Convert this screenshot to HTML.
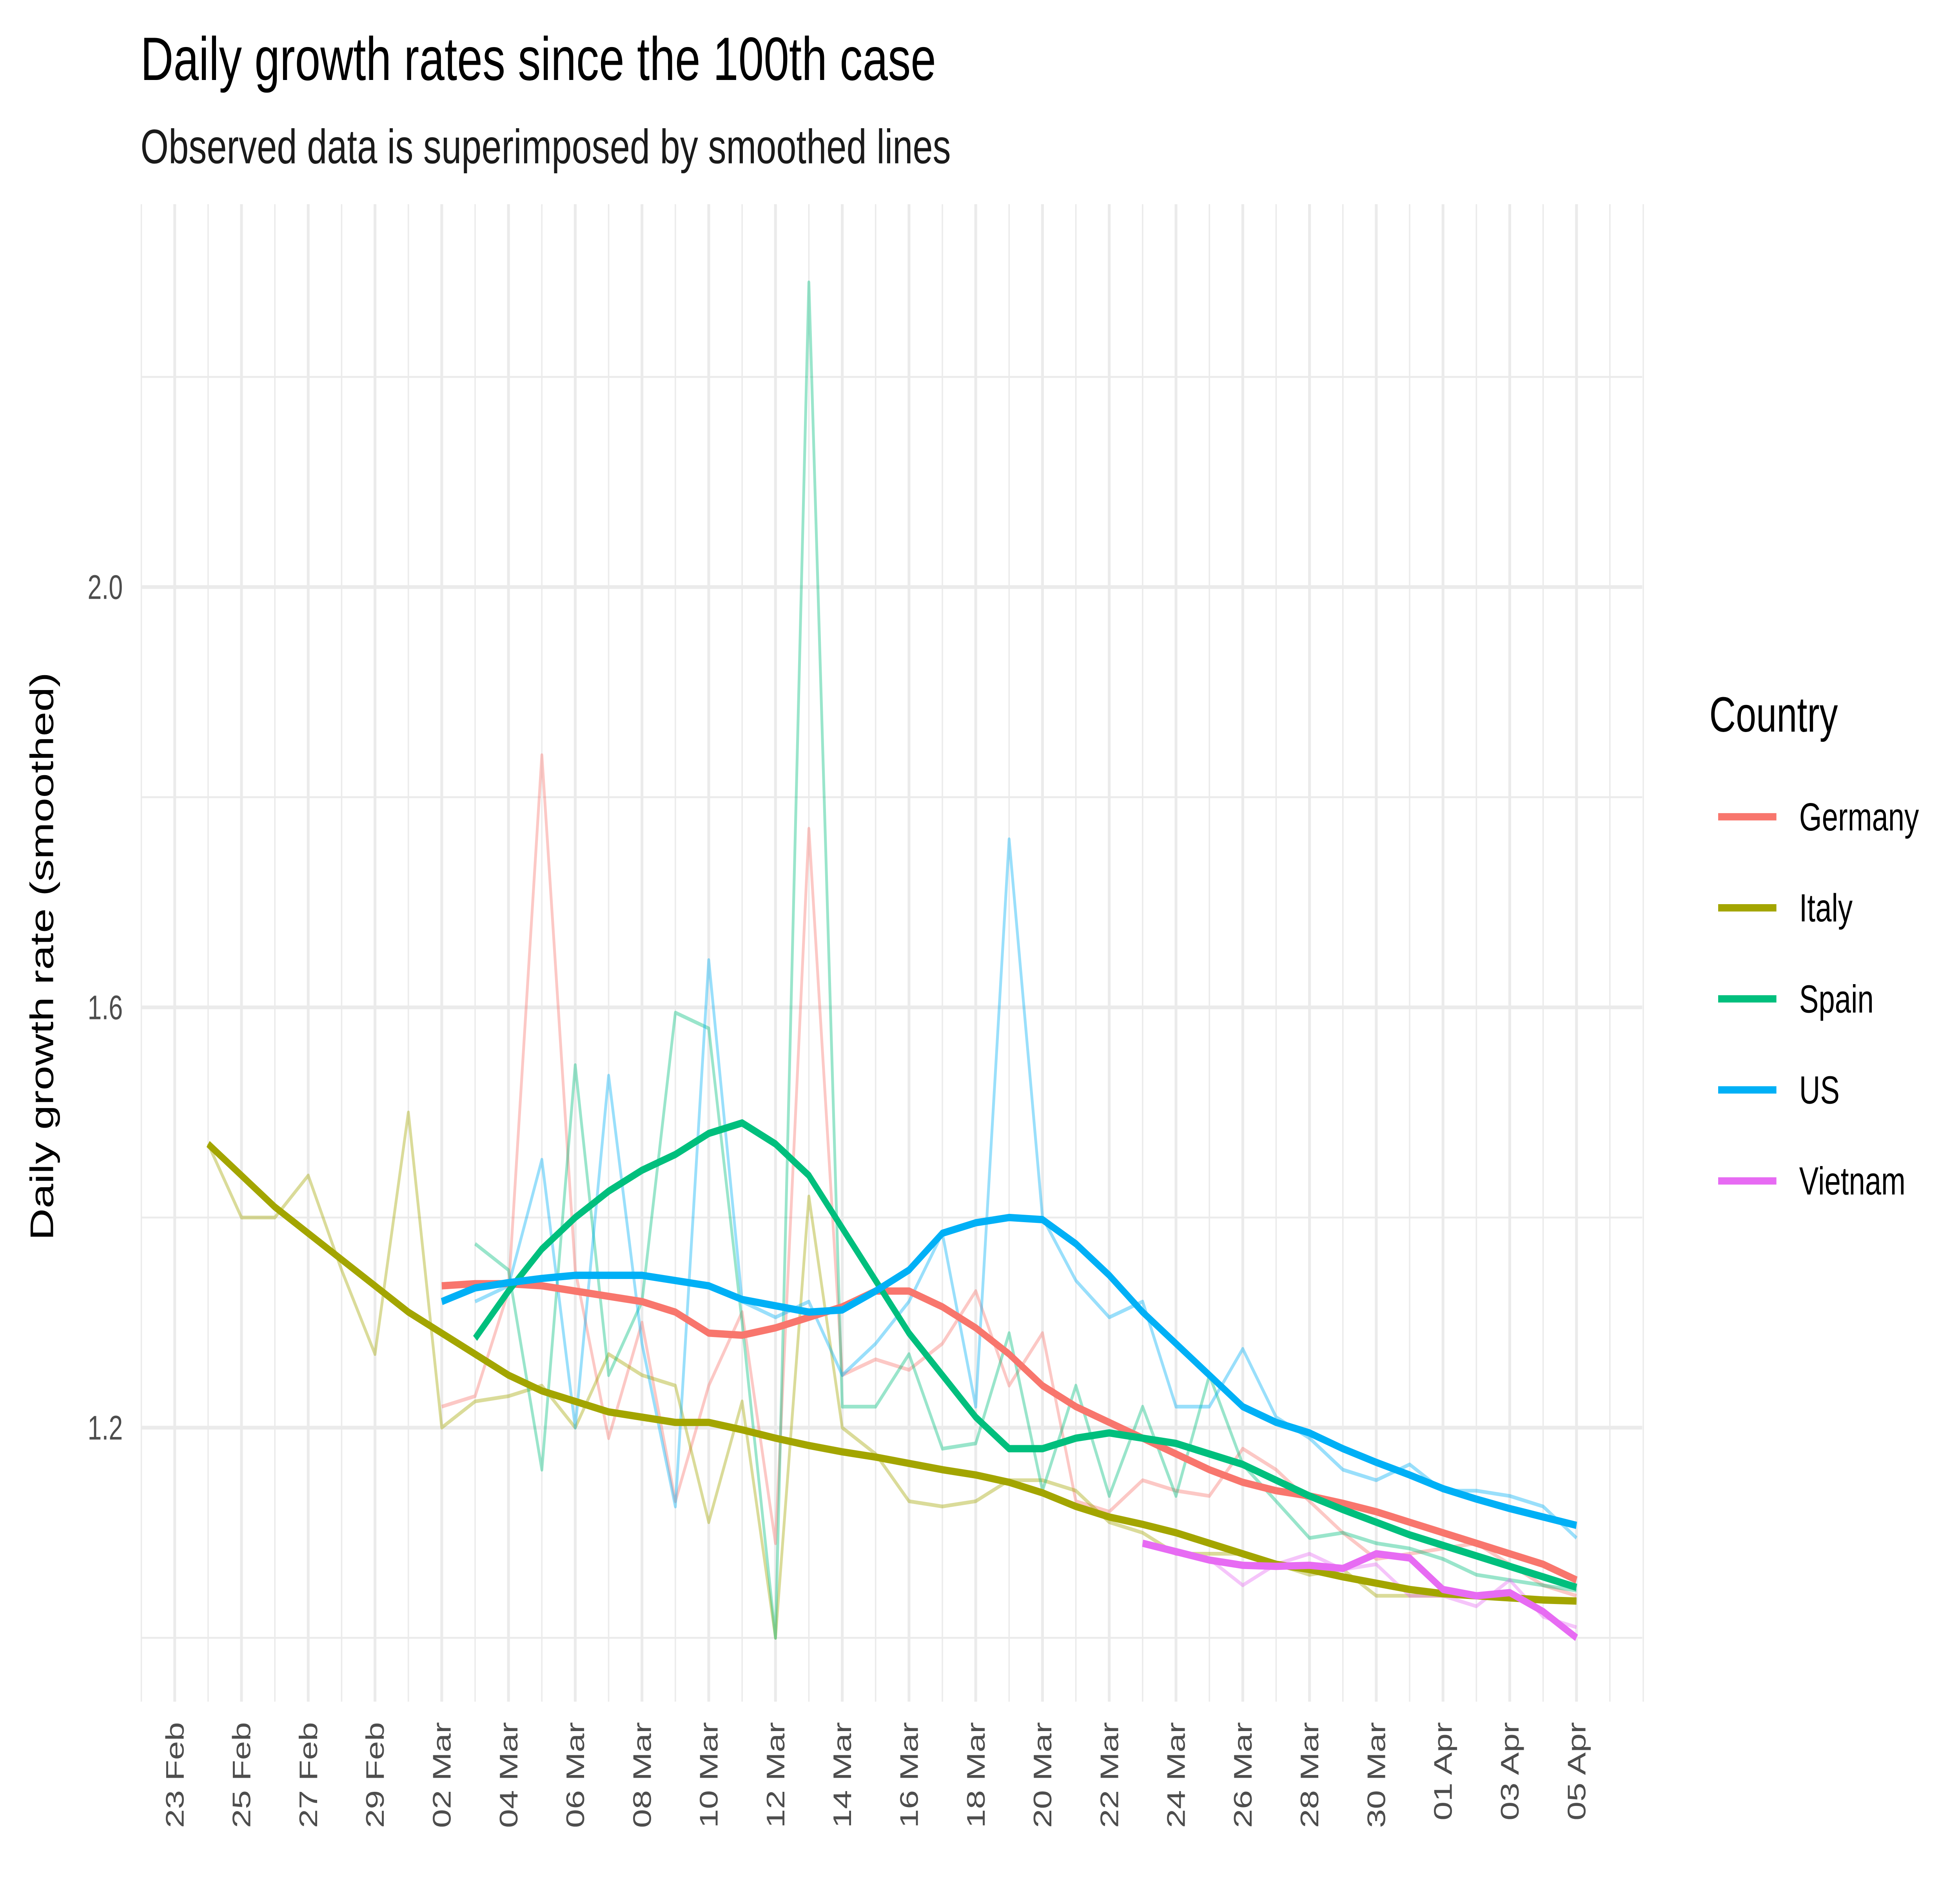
<!DOCTYPE html>
<html><head><meta charset="utf-8">
<style>
html,body{margin:0;padding:0;background:#fff;width:100%;height:100%;overflow:hidden;}
svg{display:block;font-family:"Liberation Sans",Arial,sans-serif;width:100vw;height:100vh;}
</style></head>
<body>
<svg id="chart" viewBox="0 0 1548 1106" preserveAspectRatio="none" xmlns="http://www.w3.org/2000/svg">
<rect width="1548" height="1106" fill="#fff"/>
<text x="111" y="47" font-size="36" fill="#000">Daily growth rates since the 100th case</text>
<text x="111" y="96" font-size="28.5" fill="#1a1a1a">Observed data is superimposed by smoothed lines</text>
<g id="grid"></g>
<g id="raw"></g>
<g id="smooth"></g>
<g id="axes"></g>
<text transform="translate(42,562) rotate(-90)" text-anchor="middle" font-size="26" fill="#000">Daily growth rate (smoothed)</text>
<g id="legend">
<text x="1350" y="430" font-size="29" fill="#000">Country</text>
</g>
</svg>
<script>
const countries = ["Germany","Italy","Spain","US","Vietnam"];
const colors = ["#F8766D","#A3A500","#00BF7D","#00B0F6","#E76BF3"];
const yTicks = [1.2,1.6,2.0];
const yTickLabels = ["1.2","1.6","2.0"];
const yMinor = [1.0,1.4,1.8,2.2];
const xTickLabels = ["23 Feb","25 Feb","27 Feb","29 Feb","02 Mar","04 Mar","06 Mar","08 Mar","10 Mar","12 Mar","14 Mar","16 Mar","18 Mar","20 Mar","22 Mar","24 Mar","26 Mar","28 Mar","30 Mar","01 Apr","03 Apr","05 Apr"];
// start day index (0 = 23 Feb)
const starts = [8,1,9,9,29];
const rawGermany = [1.22,1.23,1.33,1.84,1.35,1.19,1.30,1.13,1.24,1.31,1.09,1.77,1.25,1.265,1.255,1.28,1.33,1.24,1.29,1.13,1.12,1.15,1.14,1.135,1.18,1.16,1.13,1.10,1.075,1.08,1.085,1.09,1.07,1.05,1.04];
const rawItaly = [1.47,1.40,1.40,1.44,1.35,1.27,1.50,1.20,1.225,1.23,1.24,1.20,1.27,1.25,1.24,1.11,1.225,1.00,1.42,1.20,1.175,1.13,1.125,1.13,1.15,1.15,1.14,1.11,1.10,1.08,1.08,1.08,1.07,1.06,1.065,1.04,1.04,1.04,1.04,1.04,1.035,1.035];
const rawSpain = [1.375,1.35,1.16,1.545,1.25,1.32,1.595,1.58,1.30,1.00,2.29,1.22,1.22,1.27,1.18,1.185,1.29,1.14,1.24,1.135,1.22,1.135,1.25,1.165,1.13,1.095,1.10,1.09,1.085,1.075,1.06,1.055,1.05,1.045];
const rawUS = [1.32,1.335,1.455,1.20,1.535,1.28,1.125,1.645,1.32,1.305,1.32,1.25,1.28,1.32,1.385,1.22,1.76,1.40,1.34,1.305,1.32,1.22,1.22,1.275,1.21,1.19,1.16,1.15,1.165,1.14,1.14,1.135,1.125,1.095];
const rawVietnam = [1.09,1.08,1.075,1.05,1.07,1.08,1.065,1.07,1.04,1.04,1.03,1.055,1.02,1.01];
const smGermany = [1.335,1.337,1.337,1.335,1.33,1.325,1.32,1.31,1.29,1.288,1.295,1.305,1.315,1.33,1.33,1.315,1.295,1.27,1.24,1.22,1.205,1.19,1.175,1.16,1.148,1.14,1.135,1.128,1.12,1.11,1.10,1.09,1.08,1.07,1.055];
const smItaly = [1.47,1.44,1.41,1.385,1.36,1.335,1.31,1.29,1.27,1.25,1.235,1.225,1.215,1.21,1.205,1.205,1.198,1.19,1.183,1.177,1.172,1.166,1.16,1.155,1.148,1.138,1.125,1.115,1.108,1.1,1.09,1.08,1.07,1.065,1.058,1.052,1.046,1.042,1.04,1.038,1.036,1.035];
const smSpain = [1.285,1.33,1.37,1.40,1.425,1.445,1.46,1.48,1.49,1.47,1.44,1.39,1.34,1.29,1.25,1.21,1.18,1.18,1.19,1.195,1.19,1.185,1.175,1.165,1.15,1.135,1.122,1.11,1.098,1.088,1.078,1.068,1.058,1.048];
const smUS = [1.32,1.333,1.338,1.342,1.345,1.345,1.345,1.34,1.335,1.322,1.316,1.31,1.312,1.33,1.35,1.385,1.395,1.40,1.398,1.375,1.345,1.31,1.28,1.25,1.22,1.205,1.195,1.18,1.167,1.155,1.142,1.132,1.123,1.115,1.107];
const smVietnam = [1.09,1.082,1.074,1.069,1.068,1.069,1.066,1.08,1.076,1.046,1.04,1.043,1.025,1.0];
const rawSeries = [rawGermany,rawItaly,rawSpain,rawUS,rawVietnam];
const smSeries = [smGermany,smItaly,smSpain,smUS,smVietnam];
const smStarts = [8,1,9,8,29];

const NS="http://www.w3.org/2000/svg";
const X0=138, DX=26.36;
function xs(d){return X0+DX*d;}
function ys(v){return 839-(v-1.2)*617.5;}
function mk(tag,attrs,parent){const e=document.createElementNS(NS,tag);for(const k in attrs)e.setAttribute(k,attrs[k]);parent.appendChild(e);return e;}
const grid=document.getElementById('grid');
const PL=112, PR=1297, PT=120, PB=1000;
for(let d=-1;d<=44;d++){
  const major=(d>=0&&d<=42&&d%2===0);
  const l=mk('line',{x1:xs(d),x2:xs(d),y1:PT,y2:PB,stroke:'#ebebeb','stroke-width':major?2.2:1.1},grid);
  
  
}
yMinor.forEach(v=>{const l=mk('line',{x1:PL,x2:PR,y1:ys(v),y2:ys(v),stroke:'#ebebeb','stroke-width':1.1},grid);
  
  });
yTicks.forEach(v=>{const l=mk('line',{x1:PL,x2:PR,y1:ys(v),y2:ys(v),stroke:'#ebebeb','stroke-width':2.2},grid);
  
  });
const axes=document.getElementById('axes');
yTicks.forEach((v,i)=>{const t=mk('text',{x:97,y:ys(v)+7,'text-anchor':'end','font-size':20,fill:'#4d4d4d'},axes);t.textContent=yTickLabels[i];
  
  });
xTickLabels.forEach((s,i)=>{const x=xs(i*2);const t=mk('text',{transform:`translate(${x+7},1012) rotate(-90)`,'text-anchor':'end','font-size':20,fill:'#4d4d4d'},axes);t.textContent=s;
  
  });
function path(arr,start){return arr.map((v,i)=>(i?'L':'M')+xs(start+i).toFixed(2)+','+ys(v).toFixed(2)).join(' ');}
const rawG=document.getElementById('raw'), smG=document.getElementById('smooth');
countries.forEach((c,k)=>{
  const p=mk('path',{d:path(rawSeries[k],starts[k]),fill:'none',stroke:colors[k],'stroke-opacity':0.4,'stroke-width':2.2,'stroke-linejoin':'round'},rawG);
  
  
});
countries.forEach((c,k)=>{
  const p=mk('path',{d:path(smSeries[k],smStarts[k]),fill:'none',stroke:colors[k],'stroke-width':4.3,'stroke-linejoin':'round'},smG);
  
  
});
const leg=document.getElementById('legend');
countries.forEach((c,k)=>{
  const y=480+k*53.5;
  const g=mk('g',{},leg);
  
  
  mk('line',{x1:1357,x2:1403,y1:y,y2:y,stroke:colors[k],'stroke-width':4.3},g);
  const t=mk('text',{x:1421,y:y+8,'font-size':23,fill:'#000'},g);t.textContent=c;
});
</script>
</body></html>
